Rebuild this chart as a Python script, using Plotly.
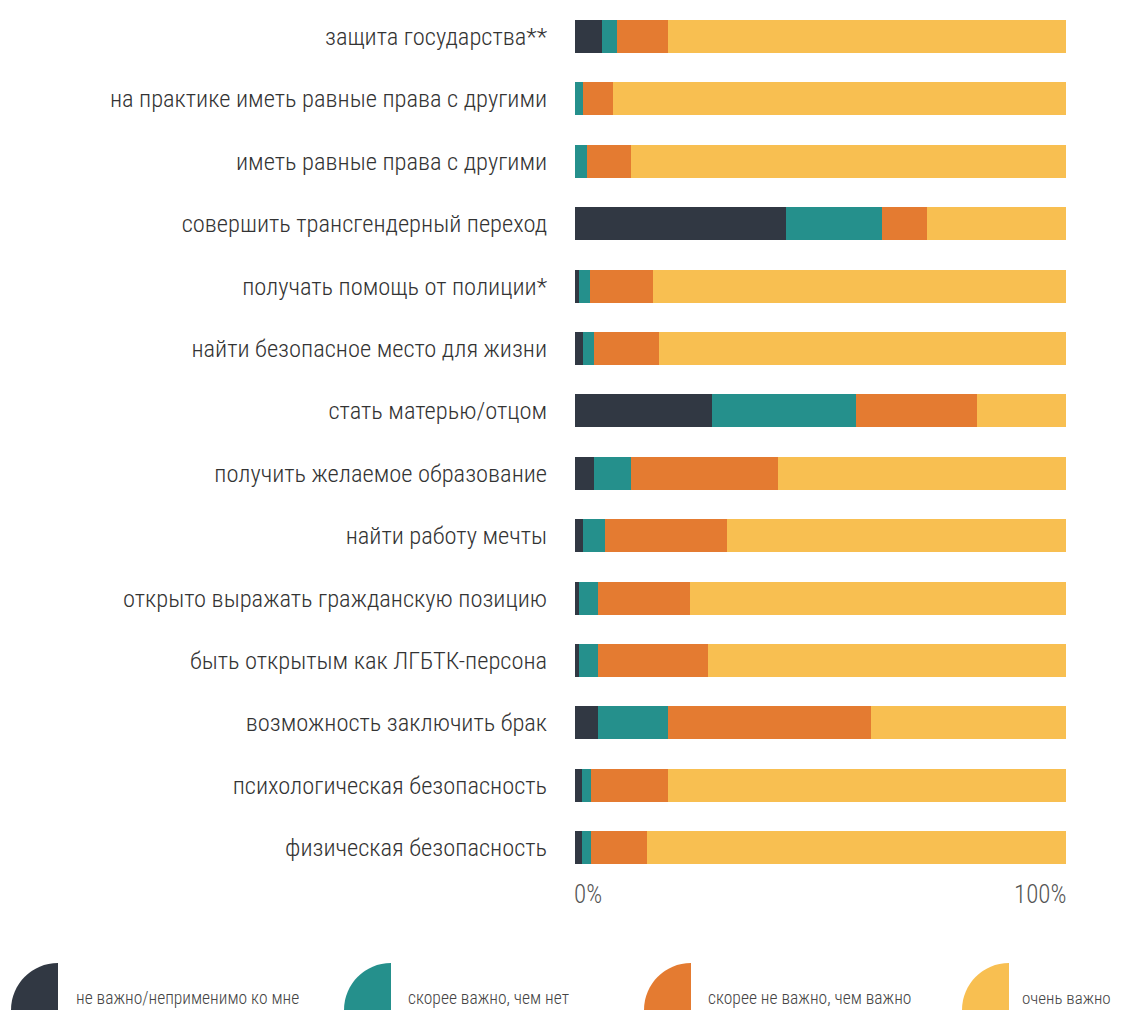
import plotly.graph_objects as go

categories = [
    "защита государства**",
    "на практике иметь равные права с другими",
    "иметь равные права с другими",
    "совершить трансгендерный переход",
    "получать помощь от полиции*",
    "найти безопасное место для жизни",
    "стать матерью/отцом",
    "получить желаемое образование",
    "найти работу мечты",
    "открыто выражать гражданскую позицию",
    "быть открытым как ЛГБТК-персона",
    "возможность заключить брак",
    "психологическая безопасность",
    "физическая безопасность",
]

series_names = [
    "не важно/неприменимо ко мне",
    "скорее важно, чем нет",
    "скорее не важно, чем важно",
    "очень важно",
]

not_important = [5.5, 0.0, 0.0, 43.0, 0.8, 1.6, 27.9, 3.9, 1.6, 0.8, 0.8, 4.7, 1.4, 1.4]
rather_important = [3.1, 1.6, 2.4, 19.6, 2.2, 2.2, 29.3, 7.5, 4.5, 3.9, 3.9, 14.3, 1.8, 1.8]
rather_not_important = [10.4, 6.1, 9.0, 9.0, 12.8, 13.4, 24.6, 29.9, 24.8, 18.7, 22.4, 41.3, 15.7, 11.4]
very_important = [81.0, 92.3, 88.6, 28.4, 84.2, 82.8, 18.2, 58.7, 69.1, 76.6, 72.9, 39.7, 81.1, 85.4]

x_tick_labels = ["0%", "100%"]

colors = ["#313843", "#25908C", "#E47B31", "#F8BF51"]

FONT = "Roboto Condensed"

# page offset (default body margin of the html page)
OFF = 8
W, H = 1121 - OFF, 1014 - OFF
# plot area in figure pixels
X0, X1 = 575 - OFF, 1066 - OFF
ROW0 = 36.5 - OFF          # centre of first row
PITCH = 62.4
PLOT_BOTTOM = 879 - OFF
ML, MR, MT, MB = X0, W - X1, 0, H - PLOT_BOTTOM
PW = X1 - X0
PH = PLOT_BOTTOM - MT
y_top_val = -ROW0 / PITCH
y_bot_val = (PLOT_BOTTOM - ROW0) / PITCH


def px2paper(px, py):
    """page pixels -> paper coordinates"""
    fx, fy = px - OFF, py - OFF
    return (fx - ML) / PW, (PLOT_BOTTOM - fy) / PH


fig = go.Figure()
for name, vals, col in zip(series_names,
                           [not_important, rather_important, rather_not_important, very_important],
                           colors):
    fig.add_trace(go.Bar(
        y=categories, x=vals, name=name, orientation="h",
        marker=dict(color=col, line=dict(width=0)),
        width=0.53, showlegend=False,
    ))

shapes = []
annotations = []

# Custom legend with quarter-circle symbols (page pixel positions)
legend_items = [(11, 74, 17.5), (344, 406, 17.5), (644, 706, 17.5), (962, 1020, 17)]
k = 0.5523
r = 47
ybot = 1010
for (sx, tx, fs), name, col in zip(legend_items, series_names, colors):
    x1 = sx + r
    pts = [
        (x1 - r, ybot),
        (x1 - r, ybot - k * r),
        (x1 - k * r, ybot - r),
        (x1, ybot - r),
        (x1, ybot),
    ]
    p = [px2paper(*q) for q in pts]
    path = (f"M {p[0][0]},{p[0][1]} C {p[1][0]},{p[1][1]} {p[2][0]},{p[2][1]} {p[3][0]},{p[3][1]} "
            f"L {p[4][0]},{p[4][1]} Z")
    shapes.append(dict(type="path", xref="paper", yref="paper", path=path,
                       fillcolor=col, line=dict(width=0)))
    ax, ay = px2paper(tx, 998)
    annotations.append(dict(text=name, xref="paper", yref="paper", x=ax, y=ay,
                            xanchor="left", yanchor="middle", showarrow=False,
                            font=dict(family=FONT, weight=300, size=fs, color="#444444")))

# x-axis end labels
_, ty = px2paper(0, 894)
annotations.append(dict(text=x_tick_labels[0], xref="x", yref="paper", x=0, y=ty,
                        xanchor="left", yanchor="middle", showarrow=False, xshift=-3,
                        font=dict(family=FONT, weight=300, size=25, color="#555555")))
annotations.append(dict(text=x_tick_labels[1], xref="x", yref="paper", x=100, y=ty,
                        xanchor="right", yanchor="middle", showarrow=False, xshift=2,
                        font=dict(family=FONT, weight=300, size=25, color="#555555")))

fig.update_layout(
    width=W, height=H,
    margin=dict(l=ML, r=MR, t=MT, b=MB, autoexpand=False),
    barmode="stack",
    plot_bgcolor="white", paper_bgcolor="white",
    xaxis=dict(range=[0, 100], showgrid=False, zeroline=False, showticklabels=False,
               ticks="", showline=False, fixedrange=True),
    yaxis=dict(range=[y_bot_val, y_top_val], showgrid=False, zeroline=False, showline=False,
               ticks="outside", ticklen=22, tickcolor="rgba(0,0,0,0)",
               tickfont=dict(family=FONT, weight=300, size=24.5, color="#333333")),
    shapes=shapes,
    annotations=annotations,
)

fig.write_html("out.html")
